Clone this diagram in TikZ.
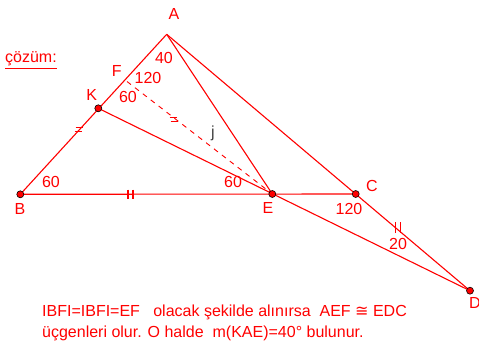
\documentclass[tikz,border=0pt]{standalone}
\usepackage{fontspec}
\setmainfont{Liberation Sans}
\newfontfamily\symfont{DejaVu Sans}
\begin{document}
\begin{tikzpicture}[x=1pt,y=-1pt,
  geo/.style={draw=red,line width=1.1pt},
  dot/.style={circle,fill=red,draw=black,line width=0.6pt,inner sep=0pt,minimum size=7pt},
  lbl/.style={text=red,font=\fontsize{16}{18}\selectfont,inner sep=0pt},
  tick/.style={draw=red,line width=1.2pt}]
\useasboundingbox (0,0) rectangle (479,345);
\coordinate (A) at (166.7,34.3);
\coordinate (B) at (20.3,194.3);
\coordinate (K) at (98.3,108.3);
\coordinate (F) at (127,81.5);
\coordinate (E) at (272.3,194);
\coordinate (C) at (355.7,194);
\coordinate (D) at (470,290.7);
% lines
\draw[geo] (A) -- (B);
\draw[geo] (A) -- (E);
\draw[geo] (A) -- (D);
\draw[geo] (B) -- (C);
\draw[geo] (K) -- (D);
\draw[draw=red,line width=0.9pt,dash pattern=on 5pt off 5pt] (F) -- (E);
% tick marks
\draw[tick] (128,189.5) -- (128,198.5);
\draw[tick] (133,189.5) -- (133,198.5);
\draw[tick] (395.5,222) -- (395.5,233);
\draw[tick] (400.5,222) -- (400.5,233);
\draw[tick,line width=1pt] (75.5,127.5) -- (82.5,127.5);
\draw[tick,line width=1pt] (74.5,131.5) -- (81.5,131.5);
\draw[tick,line width=1pt] (169.5,117) -- (176.5,117);
\draw[tick,line width=1pt] (170.5,121) -- (177.5,121);
% dots
\node[dot] (nK) at (K) {};
\node[dot] (nB) at (B) {};
\node[dot] (nE) at (E) {};
\node[dot] (nC) at (C) {};
\node[dot] (nD) at (D) {};
% labels
\node[lbl] (lA) at (174,14) {A};
\node[lbl] (lB) at (20,209) {B};
\node[lbl] (lK) at (91.7,95) {K};
\node[lbl] (lF) at (116.7,71) {F};
\node[lbl] (lE) at (268,208) {E};
\node[lbl] (lC) at (372,186) {C};
\node[lbl] (lD) at (475,303) {D};
\node[lbl] (a40) at (164,58) {40};
\node[lbl] (a120) at (148,78) {120};
\node[lbl] (a60a) at (128,97) {60};
\node[lbl] (a60b) at (233,182) {60};
\node[lbl] (a60c) at (51,182) {60};
\node[lbl] (a120b) at (349,209) {120};
\node[lbl] (a20) at (398,244) {20};
\node[lbl,text=black!75] (lj) at (213,133) {j};
\node[lbl,anchor=base west] (coz) at (5,63) {\underline{çözüm:}};
\node[lbl,anchor=base west] (t1) at (42,316) {IBFI=IBFI=EF\ \ \ olacak şekilde alınırsa\ \ AEF {\symfont ≅} EDC};
\node[lbl,anchor=base west] (t2) at (42,337) {üçgenleri olur. O halde\ \ m(KAE)=40° bulunur.};
\end{tikzpicture}
\end{document}
